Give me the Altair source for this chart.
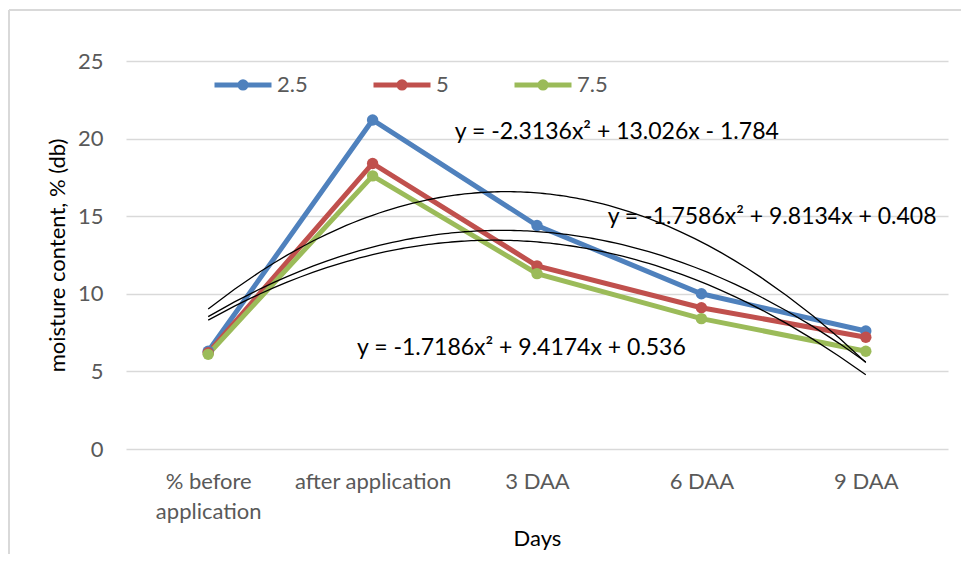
import json
import altair as alt
import pandas as pd

# ---- data ----
categories = ["% before application", "after application", "3 DAA", "6 DAA", "9 DAA"]
tick_label_lines = [["% before", "application"], ["after application"], ["3 DAA"], ["6 DAA"], ["9 DAA"]]
series_names = ["2.5", "5", "7.5"]
series_colors = ["#4F81BD", "#C0504D", "#9BBB59"]
values_2_5 = [6.3, 21.2, 14.4, 10.0, 7.6]
values_5 = [6.2, 18.4, 11.8, 9.1, 7.2]
values_7_5 = [6.1, 17.6, 11.3, 8.4, 6.3]

eq_texts = [
    "y = -2.3136x\u00b2 + 13.026x - 1.784",
    "y = -1.7586x\u00b2 + 9.8134x + 0.408",
    "y = -1.7186x\u00b2 + 9.4174x + 0.536",
]
eq_x = [2.50, 3.43, 1.905]
eq_y = [20.4, 14.95, 6.5]

FONT = "Lato"

rows = []
for name, vals in zip(series_names, [values_2_5, values_5, values_7_5]):
    for i, (cat, v) in enumerate(zip(categories, vals)):
        rows.append({"series": name, "cat": cat, "x": i + 1, "y": v})
df = pd.DataFrame(rows)
eq_df = pd.DataFrame({"text": eq_texts, "x": eq_x, "y": eq_y})

label_expr = json.dumps(tick_label_lines) + "[datum.value - 1]"

x_scale = alt.Scale(domain=[0.5, 5.5], nice=False, zero=False)
y_scale = alt.Scale(domain=[0, 25], nice=False)
color_scale = alt.Scale(domain=series_names, range=series_colors)

x_axis = alt.Axis(
    values=[1, 2, 3, 4, 5], labelExpr=label_expr, title="Days", grid=False,
    domain=False, ticks=False, labelFont=FONT, labelFontSize=22, labelColor="#595959",
    labelPadding=22, labelLineHeight=30, titleFont=FONT, titleFontSize=22,
    titleFontWeight="normal", titleColor="#000000", titlePadding=6,
)
y_axis = alt.Axis(
    values=[0, 5, 10, 15, 20, 25], title="moisture content, % (db)", grid=True,
    gridColor="#D9D9D9", gridWidth=1.3, domain=False, ticks=False, labelFont=FONT,
    labelFontSize=22, labelColor="#595959", labelPadding=23, titleFont=FONT,
    titleFontSize=22, titleFontWeight="normal", titleColor="#000000", titlePadding=8,
)

# legend glyph: a line with a (stroke-filled) dot in the middle
legend_symbol = (
    "M-1,0H1"
    "M-0.11,0A0.11,0.11 0 1,1 0.11,0A0.11,0.11 0 1,1 -0.11,0"
)

base = alt.Chart(df)

lines = base.mark_line(strokeWidth=5).encode(
    x=alt.X("x:Q", scale=x_scale, axis=x_axis),
    y=alt.Y("y:Q", scale=y_scale, axis=y_axis),
    color=alt.Color(
        "series:N", scale=color_scale,
        legend=alt.Legend(
            title=None, orient="none", direction="horizontal", legendX=86,
            legendY=-7.5, labelFont=FONT, labelFontSize=22,
            labelColor="#595959", labelOffset=3, columnPadding=55, padding=0,
            symbolType=legend_symbol, symbolStrokeWidth=5, symbolSize=3249,
        ),
    ),
)

points = base.mark_point(filled=True, size=130, opacity=1).encode(
    x=alt.X("x:Q", scale=x_scale),
    y=alt.Y("y:Q", scale=y_scale),
    fill=alt.Fill("series:N", scale=color_scale, legend=None),
)

trend = base.transform_regression(
    "x", "y", groupby=["series"], method="poly", order=2, extent=[1, 5]
).mark_line(color="#000000", strokeWidth=1.3).encode(
    x=alt.X("x:Q", scale=x_scale),
    y=alt.Y("y:Q", scale=y_scale),
    detail="series:N",
)

eqs = alt.Chart(eq_df).mark_text(
    align="left", baseline="middle", font=FONT, fontSize=23, color="#000000"
).encode(
    x=alt.X("x:Q", scale=x_scale),
    y=alt.Y("y:Q", scale=y_scale),
    text="text:N",
)

frame_left = alt.Chart(eq_df.head(1)).mark_rule(color="#D9D9D9", strokeWidth=2).encode(
    x=alt.value(-117), y=alt.value(-51), y2=alt.value(520)
)
frame_top = alt.Chart(eq_df.head(1)).mark_rule(color="#D9D9D9", strokeWidth=2).encode(
    x=alt.value(-117), x2=alt.value(860), y=alt.value(-51)
)

chart = alt.layer(frame_left, frame_top, lines, points, trend, eqs).properties(
    width=822, height=388,
    autosize=alt.AutoSizeParams(type="none"),
    padding={"left": 118, "top": 53, "right": 13, "bottom": 105},
).configure_view(stroke=None)

chart.save("out.html", embed_options={"renderer": "svg", "actions": False})
